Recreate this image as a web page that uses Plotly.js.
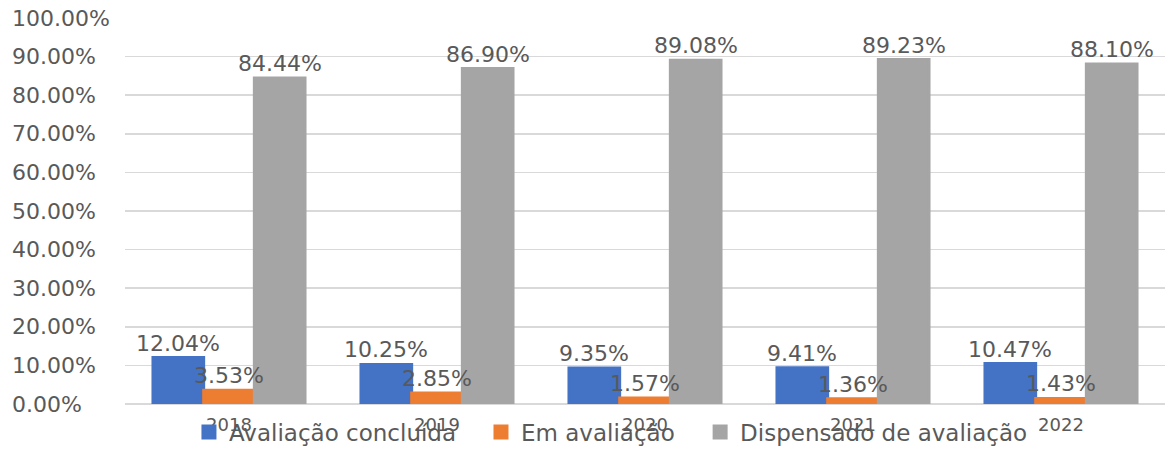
<!DOCTYPE html>
<html>
<head>
<meta charset="utf-8">
<script src="https://cdn.plot.ly/plotly-3.0.1.min.js"></script>
<style>
  html, body { margin: 0; padding: 0; background: #ffffff; }
  #chart { width: 1171px; height: 452px; }
</style>
</head>
<body>
<div id="chart"></div>
<script>
// Anos avaliados
const years = ['2018', '2019', '2020', '2021', '2022'];

// Percentuais por situação da avaliação
const concluida = [12.04, 10.25, 9.35, 9.41, 10.47];
const emAvaliacao = [3.53, 2.85, 1.57, 1.36, 1.43];
const dispensado = [84.44, 86.90, 89.08, 89.23, 88.10];

const seriesNames = ['Avaliação concluída', 'Em avaliação', 'Dispensado de avaliação'];
const seriesColors = ['#4472C4', '#ED7D31', '#A5A5A5'];

// Marcas do eixo vertical
const yTicks = [0, 10, 20, 30, 40, 50, 60, 70, 80, 90, 100];

const allSeries = [concluida, emAvaliacao, dispensado];
const textColor = '#595959';
const fontFamily = 'DejaVu Sans, Verdana, sans-serif';
const barGap = 0.269;
const edge = 3;                      // contorno da coluna, na cor da própria série
const legendIds = ['legend', 'legend2', 'legend3'];
const legendX = [0.0615, 0.3423, 0.553];

const traces = [];

// Colunas agrupadas
allSeries.forEach((vals, i) => {
  traces.push({
    type: 'bar',
    name: seriesNames[i],
    legend: legendIds[i],
    x: years,
    y: vals,
    marker: { color: seriesColors[i], line: { width: edge, color: seriesColors[i] } },
    textposition: 'none',
    hoverinfo: 'name+y'
  });
});

// Rótulos de dados por cima de todas as colunas (eixo auxiliar linear alinhado às categorias)
const barWidth = (1 - barGap) / allSeries.length;
const dataLabels = [];
allSeries.forEach((vals, i) => {
  const offset = (i - (allSeries.length - 1) / 2) * barWidth;
  vals.forEach((v, k) => {
    dataLabels.push({
      xref: 'x2',
      yref: 'y',
      x: k + offset,
      y: v,
      xanchor: 'center',
      yanchor: 'bottom',
      yshift: 0,
      text: v.toFixed(2) + '%',
      showarrow: false,
      font: { family: fontFamily, size: 22, color: textColor }
    });
  });
});

// Rótulos do eixo vertical alinhados à esquerda
const yLabels = yTicks.map(v => ({
  xref: 'paper',
  yref: 'y',
  x: -0.1106,
  y: v,
  xanchor: 'left',
  yanchor: 'middle',
  text: v.toFixed(2) + '%',
  showarrow: false,
  font: { family: fontFamily, size: 22, color: textColor }
}));

const layout = {
  width: 1171,
  height: 452,
  margin: { l: 125, r: 6, t: 18, b: 48, autoexpand: false },
  paper_bgcolor: '#ffffff',
  plot_bgcolor: '#ffffff',
  font: { family: fontFamily, color: textColor },
  barmode: 'group',
  bargap: barGap,
  bargroupgap: 0,
  xaxis: {
    type: 'category',
    range: [-0.5, years.length - 0.5],
    showgrid: false,
    showline: false,
    zeroline: false,
    ticks: 'outside',
    ticklen: 4,
    tickcolor: 'rgba(0,0,0,0)',
    tickfont: { family: fontFamily, size: 18, color: textColor },
    automargin: false,
    fixedrange: true
  },
  xaxis2: {
    type: 'linear',
    overlaying: 'x',
    range: [-0.5, years.length - 0.5],
    visible: false,
    fixedrange: true
  },
  yaxis: {
    range: [0, 100],
    tickvals: yTicks,
    showticklabels: false,
    showgrid: true,
    gridcolor: '#d9d9d9',
    gridwidth: 1.5,
    zeroline: true,
    zerolinecolor: '#d9d9d9',
    zerolinewidth: 1.5,
    showline: false,
    automargin: false,
    fixedrange: true
  },
  annotations: yLabels.concat(dataLabels),
  showlegend: true
};

// Uma legenda por série, para espaçar os itens livremente
legendIds.forEach((id, i) => {
  layout[id] = {
    orientation: 'h',
    x: legendX[i],
    xanchor: 'left',
    y: -0.0725,
    yanchor: 'middle',
    bgcolor: 'rgba(0,0,0,0)',
    borderwidth: 0,
    font: { family: fontFamily, size: 23, color: textColor }
  };
});

Plotly.newPlot('chart', traces, layout, { displayModeBar: false, staticPlot: true });
</script>
</body>
</html>
